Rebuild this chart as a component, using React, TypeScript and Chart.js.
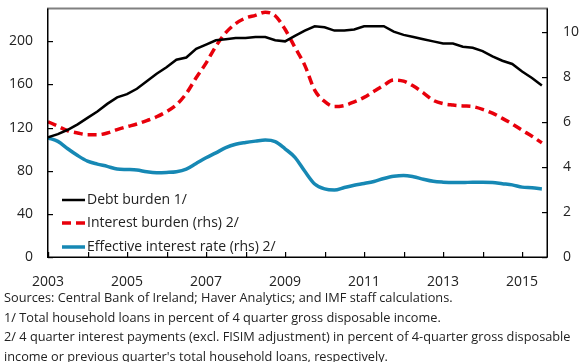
import React, { useEffect, useRef } from "react";
import { Chart, registerables } from "chart.js";

Chart.register(...registerables);

// Quarterly data, 2003Q1 .. 2015Q3
const START_YEAR = 2003;

const debtBurden = [
  111, 114, 118, 123, 129, 135, 142, 148, 151, 156, 163, 170, 176,
  183, 185, 193, 197, 201, 202, 203, 203, 204, 204, 201, 200, 205,
  210, 214, 213, 210, 210, 211, 214, 214, 214, 209, 206, 204, 202,
  200, 198, 198, 195, 194, 191, 186, 182, 179, 172, 166, 159,
];

const interestBurden = [
  6.0, 5.8, 5.6, 5.5, 5.42, 5.42, 5.5, 5.65, 5.78, 5.9, 6.05, 6.22, 6.45,
  6.75, 7.25, 7.95, 8.6, 9.35, 9.95, 10.35, 10.6, 10.72, 10.86, 10.7, 10.1, 9.3,
  8.5, 7.4, 6.9, 6.67, 6.72, 6.88, 7.08, 7.35, 7.62, 7.85, 7.8, 7.58, 7.28,
  6.95, 6.8, 6.74, 6.7, 6.67, 6.55, 6.38, 6.15, 5.9, 5.62, 5.36, 5.06,
];

const effectiveRate = [
  5.28, 5.13, 4.8, 4.5, 4.25, 4.12, 4.02, 3.9, 3.88, 3.86, 3.78, 3.74, 3.75,
  3.78, 3.9, 4.15, 4.4, 4.62, 4.85, 5.0, 5.08, 5.14, 5.19, 5.12, 4.8, 4.42,
  3.8, 3.24, 3.02, 2.97, 3.08, 3.18, 3.26, 3.35, 3.48, 3.58, 3.62, 3.56, 3.45,
  3.36, 3.32, 3.3, 3.3, 3.32, 3.32, 3.3, 3.25, 3.2, 3.1, 3.07, 3.02,
];

const yearTicks = [2003, 2004, 2005, 2006, 2007, 2008, 2009, 2010, 2011, 2012, 2013, 2014, 2015];
const yearLabels = [2003, 2005, 2007, 2009, 2011, 2013, 2015];
const leftTicks = [0, 40, 80, 120, 160, 200];
const rightTicks = [0, 2, 4, 6, 8, 10];

const seriesNames = [
  "Debt burden 1/",
  "Interest burden (rhs) 2/",
  "Effective interest rate (rhs) 2/",
];

const footnotes = [
  "Sources: Central Bank of Ireland; Haver Analytics; and IMF staff calculations.",
  "1/ Total household loans in percent of 4 quarter gross disposable income.",
  "2/ 4 quarter interest payments (excl. FISIM adjustment) in percent of 4-quarter gross disposable income or previous quarter's total household loans, respectively.",
];

const COLORS = { debt: "#000000", interest: "#e8000b", rate: "#1688b4" };
const FONT = "'Open Sans', 'Noto Sans', sans-serif";

const toPoints = (arr: number[]) => arr.map((v, i) => ({ x: START_YEAR + i / 4, y: v }));

const framePlugin = {
  id: "frame",
  afterDraw(chart: any) {
    const { ctx } = chart;
    const x = chart.scales.x;
    const y = chart.scales.y;
    const y1 = chart.scales.y1;
    const left = x.left;
    const right = x.right;
    const top = y.top;
    const bottom = y.bottom;
    ctx.save();
    ctx.setLineDash([]);
    // top border (gray)
    ctx.fillStyle = "#808080";
    ctx.fillRect(left - 1, top - 1.5, right - left + 2, 2);
    // axes
    ctx.fillStyle = "#000";
    ctx.fillRect(left - 1, top - 0.5, 1.5, bottom - top + 1);
    ctx.fillRect(right - 0.5, top - 0.5, 1.5, bottom - top + 1);
    ctx.fillRect(left - 1, bottom - 0.5, right - left + 1.5, 1.5);
    // inside tick marks
    yearTicks.forEach((v) => {
      const px = Math.round(x.getPixelForValue(v));
      ctx.fillRect(px, bottom - 5, 1.2, 5);
    });
    leftTicks.forEach((v) => {
      const py = Math.round(y.getPixelForValue(v));
      ctx.fillRect(left, py, 5, 1.2);
    });
    rightTicks.forEach((v) => {
      const py = Math.round(y1.getPixelForValue(v));
      ctx.fillRect(right - 5, py, 5, 1.2);
    });

    // tick labels
    ctx.fillStyle = "#222";
    ctx.font = `14px ${FONT}`;
    ctx.textBaseline = "middle";
    ctx.textAlign = "right";
    leftTicks.forEach((v) => ctx.fillText(String(v), left - 15, y.getPixelForValue(v)));
    ctx.textAlign = "left";
    rightTicks.forEach((v) => ctx.fillText(String(v), right + 16, y1.getPixelForValue(v)));
    ctx.textAlign = "center";
    yearLabels.forEach((v) => ctx.fillText(String(v), x.getPixelForValue(v), bottom + 25));

    // legend
    const rows = [200, 223, 247];
    const ds = chart.data.datasets;
    ctx.font = `14px ${FONT}`;
    ctx.textBaseline = "middle";
    ctx.textAlign = "left";
    ds.forEach((d: any, i: number) => {
      const ry = rows[i];
      ctx.strokeStyle = d.borderColor;
      ctx.lineWidth = i === 0 ? 2.5 : 3.5;
      ctx.setLineDash(d.borderDash || []);
      ctx.beginPath();
      ctx.moveTo(62, ry);
      ctx.lineTo(85, ry);
      ctx.stroke();
      ctx.setLineDash([]);
      ctx.fillStyle = "#222";
      ctx.fillText(d.label, 87, ry);
    });
    ctx.restore();
  },
};

export default function App() {
  const ref = useRef<HTMLCanvasElement | null>(null);

  useEffect(() => {
    if (!ref.current) return;
    const chart = new Chart(ref.current, {
      type: "line",
      data: {
        datasets: [
          {
            label: seriesNames[0],
            data: toPoints(debtBurden),
            borderColor: COLORS.debt,
            borderWidth: 2.5,
            pointRadius: 0,
            tension: 0,
            yAxisID: "y",
          },
          {
            label: seriesNames[1],
            data: toPoints(interestBurden),
            borderColor: COLORS.interest,
            borderWidth: 3.5,
            borderDash: [9, 5],
            pointRadius: 0,
            tension: 0.4,
            cubicInterpolationMode: "monotone",
            yAxisID: "y1",
          },
          {
            label: seriesNames[2],
            data: toPoints(effectiveRate),
            borderColor: COLORS.rate,
            borderWidth: 3.5,
            pointRadius: 0,
            tension: 0.4,
            cubicInterpolationMode: "monotone",
            yAxisID: "y1",
          },
        ],
      },
      options: {
        responsive: false,
        animation: false,
        layout: { padding: { top: 9, left: 0, right: 0, bottom: 0 } },
        plugins: { legend: { display: false }, tooltip: { enabled: false } },
        scales: {
          x: {
            type: "linear",
            min: 2003,
            max: 2015.63,
            grid: { display: false },
            border: { display: false },
            ticks: { display: false },
            afterFit: (s: any) => {
              s.height = 38;
              s.paddingLeft = 0;
              s.paddingRight = 0;
            },
          },
          y: {
            position: "left",
            min: 0,
            max: 230,
            grid: { display: false },
            border: { display: false },
            ticks: { display: false },
            afterFit: (s: any) => {
              s.width = 48;
              s.paddingTop = 0;
              s.paddingBottom = 0;
            },
          },
          y1: {
            position: "right",
            min: 0,
            max: 11,
            grid: { display: false },
            border: { display: false },
            ticks: { display: false },
            afterFit: (s: any) => {
              s.width = 33;
              s.paddingTop = 0;
              s.paddingBottom = 0;
            },
          },
        },
      },
      plugins: [framePlugin],
    } as any);
    return () => chart.destroy();
  }, []);

  return (
    <div style={{ position: "absolute", left: 0, top: 0, width: 580, height: 362, background: "#fff" }}>
      <canvas ref={ref} width={580} height={295} style={{ display: "block", width: 580, height: 295 }} />
      <div
        style={{
          position: "absolute",
          left: 4,
          top: 288,
          width: 574,
          fontFamily: FONT,
          fontSize: 12.75,
          lineHeight: "19.5px",
          color: "#222",
        }}
      >
        {footnotes.map((t, i) => (
          <div key={i}>{t}</div>
        ))}
      </div>
    </div>
  );
}
